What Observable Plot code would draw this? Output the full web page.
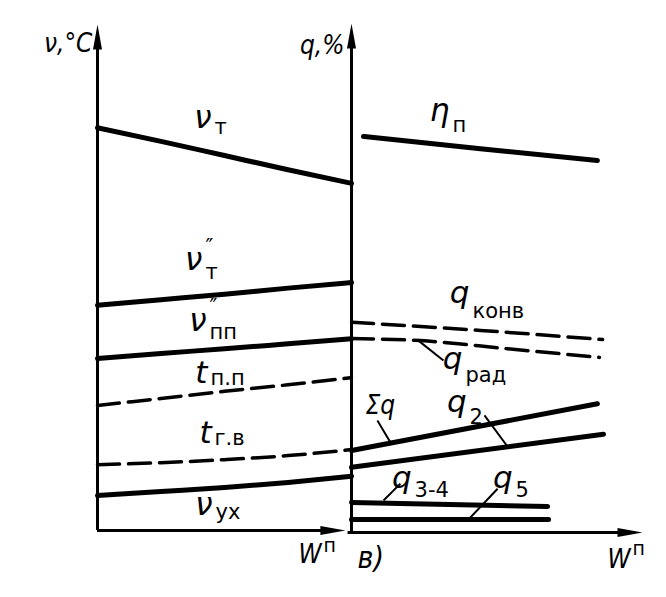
<!DOCTYPE html>
<html><head><meta charset="utf-8">
<script src="https://cdn.jsdelivr.net/npm/d3@7"></script>
<script src="https://cdn.jsdelivr.net/npm/@observablehq/plot@0.6"></script>
<style>
body{margin:0;background:#fff;}
#chart{position:relative;width:666px;height:597px;overflow:hidden;background:#fff;}
#chart svg{position:absolute;top:0;}
</style></head><body><div id="chart"></div>
<script>
// ---------- Left panel: temperatures ϑ, °C vs W^п (relative units) ----------
const leftW    = [0, 0.25, 0.5, 0.75, 1];
const thetaT   = [79.6, 76.9, 74.1, 71.3, 68.6];   // ϑт
const thetaT2  = [44.5, 45.6, 46.7, 47.9, 49.0];   // ϑ''т
const thetaPP  = [34.0, 35.0, 35.9, 36.9, 37.9];   // ϑ''пп
const tPP      = [24.7, 26.1, 27.5, 28.8, 30.2];   // tп.п (dashed)
const tGV      = [13.0, 13.4, 14.0, 14.8, 16.0];   // tг.в (dashed)
const thetaUX  = [6.9, 7.7, 8.5, 9.5, 10.7];       // ϑух

// ---------- Right panel: heat losses q, % vs W^п (relative units) ----------
const etaW   = [0.041, 0.443, 0.845];  const etaP  = [77.8, 75.4, 73.1];        // ηп
const konvW  = [0, 0.443, 0.863];      const qKonv = [41.3, 39.7, 37.9];        // qконв (dashed)
const radW   = [0, 0.237, 0.536, 0.852]; const qRad = [38.1, 37.7, 36.1, 34.4]; // qрад (dashed)
const sumW   = [0, 0.845];             const sumQ  = [16.1, 25.3];              // Σq
const q2W    = [0, 0.866];             const q2    = [12.8, 19.3];              // q2
const q34W   = [0, 0.674];             const q34   = [5.9, 5.1];                // q3-4
const q5W    = [0, 0.677];             const q5    = [2.55, 2.55];              // q5

// ---------- Annotations ----------
const leftLabels = [
  {W: 0.453, v: 79.6, main: "ν", sub: "т",  vSub: 78.4},
  {W: 0.417, v: 51.4, main: "ν", sub: "″\nт",  vSub: 49.8},
  {W: 0.433, v: 39.5, main: "ν", sub: "″\nпп", vSub: 37.9},
  {W: 0.437, v: 29.1, main: "t", sub: "п.п", vSub: 28.7},
  {W: 0.453, v: 17.2, main: "t", sub: "г.в", vSub: 16.8},
  {W: 0.457, v: 3.0,  main: "ν", sub: "ух", vSub: 2.2}
];
const leftAxisLabel = [{W: -0.02, v: 94.5, text: "ν,°C"}];
const leftWLabel = [{W: 0.882, v: -6.5, main: "W", sup: "п", vSup: -4.3}];

const rightLabels = [
  {W: 0.340, v: 80.9, main: "η", sub: "п",    vSub: 78.6},
  {W: 0.409, v: 45.0, main: "q", sub: "конв", vSub: 42.2},
  {W: 0.385, v: 32.2, main: "q", sub: "рад",  vSub: 29.5},
  {W: 0.399, v: 23.6, main: "q", sub: "2",    vSub: 21.4},
  {W: 0.210, v: 8.8,  main: "q", sub: "3-4",  vSub: 6.9},
  {W: 0.557, v: 8.8,  main: "q", sub: "5",    vSub: 6.9}
];
const rightWLabel = [{W: 0.959, v: -6.9, main: "W", sup: "п", vSup: -4.5}];
const rightPlainLabels = [
  {W: -0.024, v: 94.1, text: "q,%", anchor: "end", size: 26},
  {W: 0.048,  v: 23.2, text: "Σq",  anchor: "start", size: 26},
  {W: 0.021,  v: -6.9, text: "в)",  anchor: "start", size: 30}
];
// leader lines: [W1, v1, W2, v2]
const leaders = [
  [0.230, 37.7, 0.316, 33.8],  // qрад
  [0.089, 22.0, 0.134, 17.7],  // Σq
  [0.457, 23.0, 0.536, 16.9],  // q2
  [0.110, 6.3, 0.168, 9.6],    // q3-4
  [0.402, 2.55, 0.502, 8.6]    // q5
];

// ---------- helpers ----------
const FONT = "'DejaVu Sans',sans-serif";
const FONT_C = "'DejaVu Sans Condensed','DejaVu Sans',sans-serif";
const toRecords = (name, xs, ys) => xs.map((x, i) => ({name, W: x, v: ys[i]}));
const arrowHead = {draw(ctx) { ctx.moveTo(0, 0); ctx.lineTo(4.5, 25); ctx.lineTo(-4.5, 25); ctx.closePath(); }};

function labelMarks(labels) {
  return [
    Plot.text(labels, {x: "W", y: "v", text: "main", textAnchor: "end", lineAnchor: "bottom",
      fontSize: 31, fontStyle: "italic", fontFamily: FONT, fill: "black", dx: -1}),
    Plot.text(labels.filter(d => d.sub), {x: "W", y: "vSub", text: "sub", textAnchor: "start", lineAnchor: "bottom",
      fontSize: 21, fontFamily: FONT, fill: "black", dx: 2, lineHeight: 1.18})
  ];
}
function wMarks(labels) {
  return [
    Plot.text(labels, {x: "W", y: "v", text: "main", textAnchor: "end", lineAnchor: "bottom",
      fontSize: 26, fontStyle: "italic", fontFamily: FONT_C, fill: "black"}),
    Plot.text(labels, {x: "W", y: "vSup", text: "sup", textAnchor: "start", lineAnchor: "bottom",
      fontSize: 19, fontFamily: FONT, fill: "black", dx: 2})
  ];
}

// ---------- left plot ----------
const leftSolid = [
  ...toRecords("ϑт", leftW, thetaT), ...toRecords("ϑ''т", leftW, thetaT2),
  ...toRecords("ϑ''пп", leftW, thetaPP), ...toRecords("ϑух", leftW, thetaUX)
];
const leftDashed = [...toRecords("tп.п", leftW, tPP), ...toRecords("tг.в", leftW, tGV)];

const left = Plot.plot({
  width: 360, height: 597,
  marginLeft: 97, marginRight: 9, marginTop: 24, marginBottom: 67,
  x: {domain: [0, 1], axis: null},
  y: {domain: [0, 100], axis: null},
  style: {background: "transparent", overflow: "visible"},
  marks: [
    Plot.ruleX([0], {y1: 0, y2: 96, strokeWidth: 3, stroke: "black"}),
    Plot.ruleY([0], {x1: 0, x2: 0.9, strokeWidth: 3, stroke: "black"}),
    Plot.dot([{W: 0, v: 100}], {x: "W", y: "v", symbol: arrowHead, fill: "black", stroke: "none", r: 4}),
    Plot.dot([{W: 0.976, v: 0}], {x: "W", y: "v", symbol: arrowHead, fill: "black", stroke: "none", r: 4, rotate: 90}),
    Plot.line(leftSolid, {x: "W", y: "v", z: "name", stroke: "black", strokeWidth: 5, curve: "monotone-x"}),
    Plot.line(leftDashed, {x: "W", y: "v", z: "name", stroke: "black", strokeWidth: 3.5,
      strokeDasharray: "22,9", curve: "monotone-x"}),
    ...labelMarks(leftLabels),
    ...wMarks(leftWLabel),
    Plot.text(leftAxisLabel, {x: "W", y: "v", text: "text", textAnchor: "end", lineAnchor: "bottom",
      fontSize: 26, fontStyle: "italic", fontFamily: FONT_C, fill: "black"})
  ]
});
left.style.left = "0px";

// ---------- right plot ----------
const rightSolid = [
  ...toRecords("ηп", etaW, etaP), ...toRecords("Σq", sumW, sumQ), ...toRecords("q2", q2W, q2),
  ...toRecords("q3-4", q34W, q34), ...toRecords("q5", q5W, q5)
];
const rightDashed = [...toRecords("qконв", konvW, qKonv), ...toRecords("qрад", radW, qRad)];

const right = Plot.plot({
  width: 326, height: 597,
  marginLeft: 11, marginRight: 24, marginTop: 23, marginBottom: 65,
  x: {domain: [0, 1], axis: null},
  y: {domain: [0, 100], axis: null},
  style: {background: "transparent", overflow: "visible"},
  marks: [
    Plot.ruleX([0], {y1: 0, y2: 96, strokeWidth: 3, stroke: "black"}),
    Plot.ruleY([0], {x1: -0.012, x2: 0.95, strokeWidth: 3, stroke: "black"}),
    Plot.dot([{W: 0, v: 100}], {x: "W", y: "v", symbol: arrowHead, fill: "black", stroke: "none", r: 4}),
    Plot.dot([{W: 1, v: 0}], {x: "W", y: "v", symbol: arrowHead, fill: "black", stroke: "none", r: 4, rotate: 90}),
    Plot.line(rightSolid, {x: "W", y: "v", z: "name", stroke: "black", strokeWidth: 5, curve: "monotone-x"}),
    Plot.line(rightDashed, {x: "W", y: "v", z: "name", stroke: "black", strokeWidth: 3.5,
      strokeDasharray: "22,9", curve: "monotone-x"}),
    Plot.link(leaders, {x1: d => d[0], y1: d => d[1], x2: d => d[2], y2: d => d[3], stroke: "black", strokeWidth: 2}),
    ...labelMarks(rightLabels),
    ...wMarks(rightWLabel),
    ...rightPlainLabels.map(d => Plot.text([d], {x: "W", y: "v", text: "text", textAnchor: d.anchor,
      lineAnchor: "bottom", fontSize: d.size, fontStyle: "italic", fontFamily: FONT_C, fill: "black"}))
  ]
});
right.style.left = "340px";

document.getElementById("chart").append(left, right);
</script></body></html>
